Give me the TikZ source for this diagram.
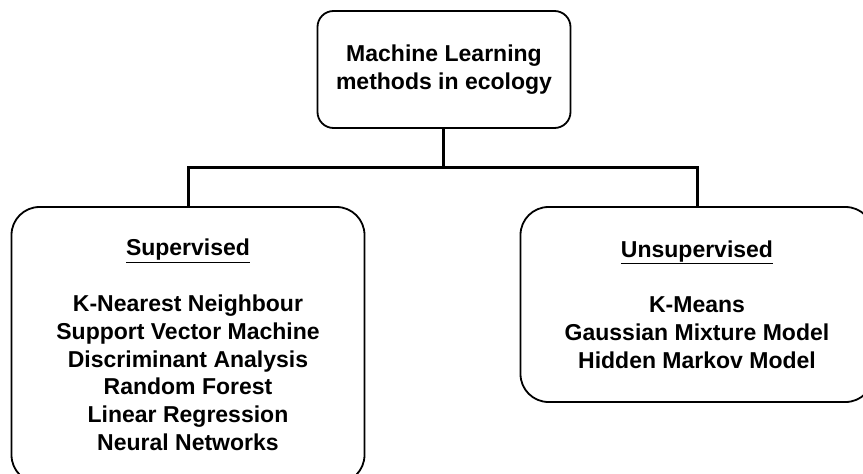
\documentclass[tikz,border=0pt]{standalone}
\usepackage{fontspec}
\setmainfont{Liberation Sans}
\begin{document}
\begin{tikzpicture}[x=1pt,y=-1pt,
  box/.style={draw=black, line width=1.8pt, fill=white, align=center,
    inner sep=0pt, font=\bfseries\fontsize{23}{27.8}\selectfont},
  topbox/.style={box, rounded corners=16pt, minimum width=253pt, minimum height=117pt},
  groupbox/.style={box, rounded corners=28pt, minimum width=353pt},
  conn/.style={draw=black, line width=3pt, line join=miter}]
  \useasboundingbox (0,0) rectangle (863,474);
  \clip (0,0) rectangle (863,474);

  % root of the hierarchy
  \node[topbox] (root) at (444,69.5) {Machine Learning\\methods in ecology};

  % the two families of methods
  \node[groupbox, minimum height=276pt] (sup) at (188,345)
    {\underline{Supervised}\\[27.8pt]
     K-Nearest Neighbour\\Support Vector Machine\\Discriminant Analysis\\
     Random Forest\\Linear Regression\\Neural Networks};
  \node[groupbox, minimum height=195pt] (unsup) at (697,304.5)
    {\underline{Unsupervised}\\[27.8pt]
     K-Means\\Gaussian Mixture Model\\Hidden Markov Model};

  % tree connector
  \coordinate (split) at (443,167);
  \draw[conn] (root.south -| split) -- (split);
  \draw[conn] (sup.north) |- (split) -| (unsup.north);
\end{tikzpicture}
\end{document}
